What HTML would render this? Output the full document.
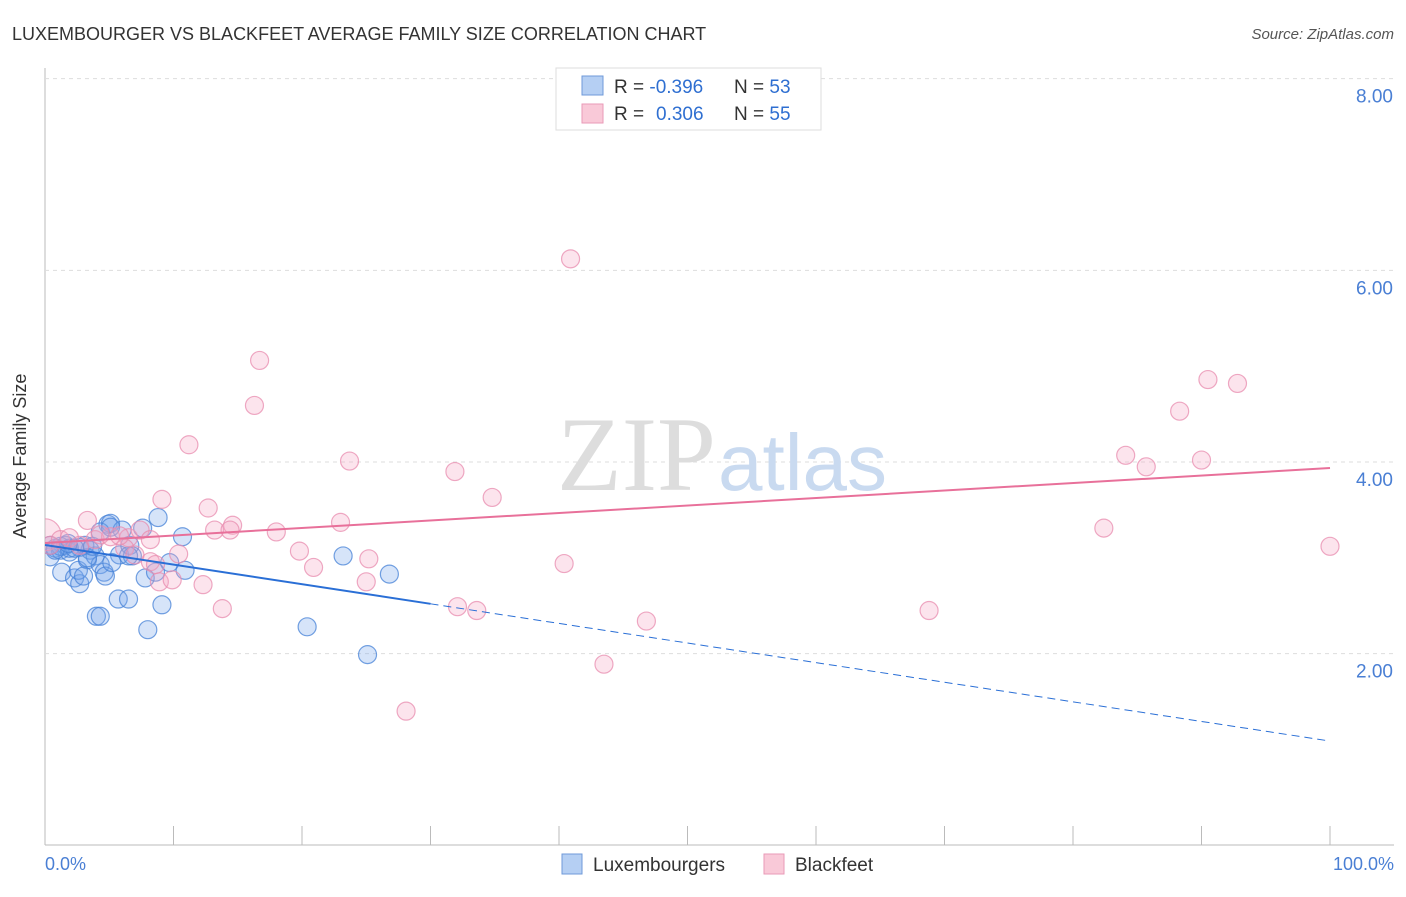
<!DOCTYPE html>
<html><head><meta charset="utf-8"><style>
body{margin:0;background:#fff;font-family:"Liberation Sans",sans-serif;}
svg text{font-family:"Liberation Sans",sans-serif;}
</style></head><body>
<svg id="chart" width="1406" height="892">
<defs><clipPath id="plotclip"><rect x="45" y="60" width="1360" height="785"/></clipPath></defs>
<text x="12" y="40" font-size="18" fill="#333">LUXEMBOURGER VS BLACKFEET AVERAGE FAMILY SIZE CORRELATION CHART</text>
<text x="1394" y="39" font-size="15" fill="#555" font-style="italic" text-anchor="end">Source: ZipAtlas.com</text>
<g id="grid"></g>
<text x="716" y="490" font-size="106" fill="#ddd" text-anchor="end" style="font-family:'Liberation Serif',serif">ZIP</text>
<text x="718" y="490" font-size="80" fill="#c9daf0">atlas</text>
<g id="pts" clip-path="url(#plotclip)"></g>
<g id="lines"></g>
<text x="26" y="456" font-size="18" fill="#333" text-anchor="middle" transform="rotate(-90 26 456)">Average Family Size</text>
<text x="45" y="870" font-size="18" fill="#4a7fd4">0.0%</text>
<text x="1394" y="870" font-size="18" fill="#4a7fd4" text-anchor="end">100.0%</text>
<g>
<rect x="556" y="68" width="265" height="62" fill="#fff" stroke="#ddd"/>
<rect x="582" y="76" width="21" height="19" fill="#b5cff3" stroke="#6f9ad8"/>
<rect x="582" y="104" width="21" height="19" fill="#f9c9d8" stroke="#e99ab7"/>
<text x="614" y="93" font-size="19" fill="#333">R = <tspan fill="#2f6fd1">-0.396</tspan><tspan x="734">N = </tspan><tspan fill="#2f6fd1">53</tspan></text>
<text x="614" y="120" font-size="19" fill="#333">R = <tspan fill="#2f6fd1" x="656">0.306</tspan><tspan x="734">N = </tspan><tspan fill="#2f6fd1">55</tspan></text>
</g>
<g><rect x="562" y="854" width="20" height="20" fill="#b5cff3" stroke="#6f9ad8"/><text x="593" y="871" font-size="19" fill="#333">Luxembourgers</text></g>
<g><rect x="764" y="854" width="20" height="20" fill="#f9c9d8" stroke="#e99ab7"/><text x="795" y="871" font-size="19" fill="#333">Blackfeet</text></g>
</svg>
<script>
const yTicks=[2,4,6,8];
const yTickLabels=["2.00","4.00","6.00","8.00"];
const xTicks=[0,10,20,30,40,50,60,70,80,90,100];
const luxX=[0.4,0.8,1.2,1.6,1.9,1.3,2.3,2.7,2.6,3.3,3.5,3.9,3.1,4.3,4.6,4.0,4.3,5.7,6.5,4.9,5.1,4.3,5.8,6.6,6.8,7.8,8.0,8.6,8.8,9.1,9.7,10.7,10.9,7.6,6.0,23.2,20.4,25.1,26.8,1.2,1.9,0.8,2.7,3.3,3.7,4.7,5.2,2.3,0.4,1.8,3.0,6.5,5.1];
const luxY=[3.01,3.10,3.08,3.13,3.06,2.85,2.79,2.73,2.87,2.98,3.08,3.02,3.13,2.93,2.85,2.39,2.39,2.57,2.57,3.35,3.36,3.27,3.03,3.13,3.02,2.79,2.25,2.85,3.42,2.51,2.95,3.22,2.87,3.31,3.29,3.02,2.28,1.99,2.83,3.12,3.10,3.08,3.11,3.00,3.12,2.81,2.95,3.10,3.13,3.15,2.81,3.02,3.32];
const blkX=[0.0,0.4,1.2,1.9,2.7,3.3,3.9,5.1,6.5,7.4,6.2,8.2,8.6,8.9,9.1,9.9,10.4,11.2,12.3,12.7,13.2,13.8,14.6,16.3,16.7,18.0,19.8,20.9,23.0,23.7,25.0,25.2,28.1,31.9,32.1,33.6,34.8,40.4,40.9,43.5,46.8,68.8,82.4,84.1,85.7,88.3,90.0,90.5,92.8,100,4.3,7.0,8.2,5.8,14.4];
const blkY=[3.24,3.13,3.19,3.21,3.13,3.39,3.19,3.22,3.21,3.29,3.10,2.96,2.93,2.75,3.61,2.77,3.04,4.18,2.72,3.52,3.29,2.47,3.34,4.59,5.06,3.27,3.07,2.90,3.37,4.01,2.75,2.99,1.40,3.90,2.49,2.45,3.63,2.94,6.12,1.89,2.34,2.45,3.31,4.07,3.95,4.53,4.02,4.86,4.82,3.12,3.24,3.03,3.19,3.23,3.29];
const luxTrend=[3.134,1.088];
const blkTrend=[3.155,3.937];
const NS="http://www.w3.org/2000/svg";
const X=v=>45+v*12.85;
const Y=v=>462-(v-4)*95.83;
function mk(t,a,p){const e=document.createElementNS(NS,t);for(const k in a)e.setAttribute(k,a[k]);p.appendChild(e);return e;}
const grid=document.getElementById('grid');
mk('line',{x1:45,y1:68,x2:45,y2:845,stroke:'#bbb'},grid);
mk('line',{x1:45,y1:845,x2:1394,y2:845,stroke:'#bbb'},grid);
yTicks.forEach((t,i)=>{
 const l=mk('line',{x1:45,y1:Y(t),x2:1394,y2:Y(t),stroke:'#ddd','stroke-dasharray':'4,4'},grid);
 
 
 const tx=mk('text',{x:1393,y:Y(t)+24,'font-size':19,fill:'#4a7fd4','text-anchor':'end'},grid);
 tx.textContent=yTickLabels[i];
 
 
});
xTicks.forEach(t=>{
 const l=mk('line',{x1:X(t),y1:826,x2:X(t),y2:845,stroke:'#bbb'},grid);
 
 
});
const pts=document.getElementById('pts');
luxX.forEach((x,i)=>{
 const c=mk('circle',{cx:X(x),cy:Y(luxY[i]),r:9,fill:'rgba(120,165,235,0.3)',stroke:'rgba(70,130,215,0.75)','stroke-width':1.2},pts);
 
 
});
blkX.forEach((x,i)=>{
 const c=mk('circle',{cx:X(x),cy:Y(blkY[i]),r:i===0?16:9,fill:'rgba(245,165,195,0.3)',stroke:'rgba(232,140,175,0.75)','stroke-width':1.2},pts);
 
 
});
const ln=document.getElementById('lines');
const f=x=>luxTrend[0]+(luxTrend[1]-luxTrend[0])*x/100;
const a=mk('line',{x1:X(0),y1:Y(f(0)),x2:X(30),y2:Y(f(30)),stroke:'#2a6fd6','stroke-width':2},ln);


const b=mk('line',{x1:X(30),y1:Y(f(30)),x2:X(100),y2:Y(f(100)),stroke:'#2a6fd6','stroke-width':1,'stroke-dasharray':'8,5'},ln);


const c=mk('line',{x1:X(0),y1:Y(blkTrend[0]),x2:X(100),y2:Y(blkTrend[1]),stroke:'#e8709a','stroke-width':2},ln);


</script>
</body></html>
